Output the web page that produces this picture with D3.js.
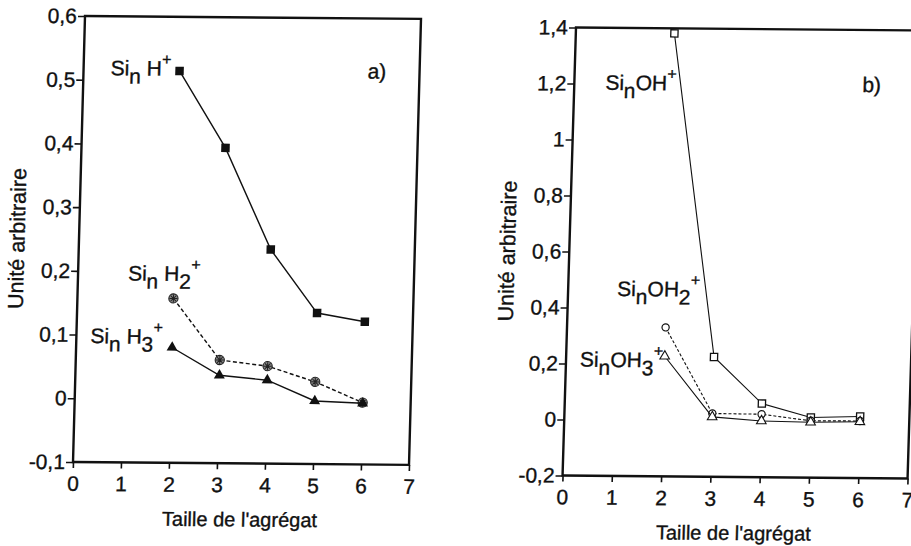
<!DOCTYPE html>
<html><head><meta charset="utf-8">
<script src="https://cdn.jsdelivr.net/npm/d3@7"></script>
<style>
body{margin:0;background:#fff}
text{font-family:"Liberation Sans",Arial,Helvetica,sans-serif;fill:#111;stroke:#111;stroke-width:0.35px}
</style>
</head><body>
<svg id="chart" width="911" height="546"></svg>
<script>
// ---- data ----
const sizes = [2, 3, 4, 5, 6];
const siH   = [0.515, 0.395, 0.236, 0.137, 0.124];
const siH2  = [0.158, 0.062, 0.053, 0.029, -0.003];
const siH3  = [0.081, 0.038, 0.031, -0.001, -0.004];
const siOH  = [1.382, 0.228, 0.063, 0.015, 0.020];
const siOH2 = [0.332, 0.026, 0.025, 0.003, 0.004];
const siOH3 = [0.229, 0.014, 0.001, -0.002, 0.001];
const xTicks  = [0, 1, 2, 3, 4, 5, 6, 7];
const yTicksA = [-0.1, 0, 0.1, 0.2, 0.3, 0.4, 0.5, 0.6];
const yTicksB = [-0.2, 0, 0.2, 0.4, 0.6, 0.8, 1, 1.2, 1.4];
const xTitle = "Taille de l'agrégat";
const yTitle = "Unité arbitraire";

const svg = d3.select("#chart");
svg.append("rect").attr("width", 911).attr("height", 546).attr("fill", "#fff");

const fmt = d => String(+d.toFixed(1)).replace(".", ",");

function asteriskPath(r) {
  const p = d3.path();
  for (let k = 0; k < 4; k++) {
    const a = k * Math.PI / 4;
    p.moveTo(-r * Math.cos(a), -r * Math.sin(a));
    p.lineTo(r * Math.cos(a), r * Math.sin(a));
  }
  return p.toString();
}

const panels = [
  {
    matrix: [1, 0.0086, -0.0269, 1, 85, 16], W: 336, H: 446,
    yDomain: [-0.1, 0.6], yTicks: yTicksA,
    series: [
      {values: siH,  marker: "sqFill", dash: null},
      {values: siH2, marker: "star",   dash: "4,2.5"},
      {values: siH3, marker: "triFill", dash: null}
    ],
    labels: [
      {u: 27, v: 59, parts: [["Si"], ["n", "sub"], [" H"], ["+", "sup"]]},
      {u: 50, v: 264, parts: [["Si"], ["n", "sub"], [" H"], ["2", "sub"], ["+", "sup"]]},
      {u: 14, v: 327, parts: [["Si"], ["n", "sub"], [" H"], ["3", "sub"], ["+", "sup"]]},
      {u: 284, v: 60, parts: [["a)"]]}
    ]
  },
  {
    matrix: [1, 0.0087, -0.03, 1, 576, 27.5], W: 345, H: 448,
    yDomain: [-0.2, 1.4], yTicks: yTicksB,
    series: [
      {values: siOH,  marker: "sqOpen", dash: null},
      {values: siOH2, marker: "circOpen", dash: "3,2"},
      {values: siOH3, marker: "triOpen", dash: null}
    ],
    labels: [
      {u: 31, v: 62, parts: [["Si"], ["n", "sub"], ["OH"], ["+", "sup"]]},
      {u: 49, v: 268, parts: [["Si"], ["n", "sub"], ["OH"], ["2", "sub"], ["+", "sup"]]},
      {u: 14, v: 339, parts: [["Si"], ["n", "sub"], ["OH"], ["3", "sub"], ["+", "sup"]]},
      {u: 288, v: 62, parts: [["b)"]]}
    ]
  }
];

panels.forEach(P => {
  const g = svg.append("g").attr("transform", `matrix(${P.matrix.join(",")})`);
  const x = d3.scaleLinear().domain([0, 7]).range([0, P.W]);
  const y = d3.scaleLinear().domain(P.yDomain).range([P.H, 0]);

  // axes
  const ax = g.append("g").attr("transform", `translate(0,${P.H})`)
    .call(d3.axisBottom(x).tickValues(xTicks).tickSize(6).tickPadding(8).tickFormat(d3.format("d")));
  const ay = g.append("g")
    .call(d3.axisLeft(y).tickValues(P.yTicks).tickSize(7).tickPadding(1).tickFormat(fmt));
  [ax, ay].forEach(a => {
    a.select(".domain").remove();
    a.selectAll("line").attr("stroke", "#111").attr("stroke-width", 1.6);
    a.selectAll("text").attr("font-size", 21).attr("fill", "#111")
      .style("font-family", '"Liberation Sans",Arial,sans-serif');
  });

  // frame
  g.append("rect").attr("x", 0).attr("y", 0).attr("width", P.W).attr("height", P.H)
    .attr("fill", "none").attr("stroke", "#111").attr("stroke-width", 2.4);

  // titles
  g.append("text").attr("x", P.W / 2).attr("y", P.H + 63).attr("text-anchor", "middle")
    .attr("font-size", 20).text(xTitle);
  g.append("text").attr("transform", `translate(-62,${P.H / 2}) rotate(-90)`)
    .attr("text-anchor", "middle").attr("dy", "0.35em").attr("font-size", 21.5).text(yTitle);

  // series
  const line = d3.line().x((d, i) => x(sizes[i])).y(d => y(d));
  P.series.forEach(S => {
    g.append("path").datum(S.values).attr("d", line)
      .attr("fill", "none").attr("stroke", "#111")
      .attr("stroke-width", P === panels[0] ? 1.4 : 1.1)
      .attr("stroke-dasharray", S.dash);
    const m = g.selectAll(null).data(S.values).enter().append("g")
      .attr("transform", (d, i) => `translate(${x(sizes[i])},${y(d)})`);
    if (S.marker === "sqFill") {
      m.append("path").attr("d", d3.symbol(d3.symbolSquare, 72)).attr("fill", "#111");
    } else if (S.marker === "triFill") {
      m.append("path").attr("d", d3.symbol(d3.symbolTriangle, 52)).attr("fill", "#111");
    } else if (S.marker === "star") {
      m.append("circle").attr("r", 4.6).attr("fill", "#888").attr("stroke", "#222").attr("stroke-width", 1.1);
      m.append("path").attr("d", asteriskPath(4)).attr("stroke", "#222").attr("stroke-width", 1);
    } else if (S.marker === "sqOpen") {
      m.append("path").attr("d", d3.symbol(d3.symbolSquare, 52)).attr("fill", "#fff")
        .attr("stroke", "#111").attr("stroke-width", 1.3);
    } else if (S.marker === "circOpen") {
      m.append("circle").attr("r", 3.6).attr("fill", "#fff").attr("stroke", "#111").attr("stroke-width", 1.2);
    } else if (S.marker === "triOpen") {
      m.append("path").attr("d", d3.symbol(d3.symbolTriangle, 40)).attr("fill", "#fff")
        .attr("stroke", "#111").attr("stroke-width", 1.1);
    }
  });

  // labels
  P.labels.forEach(L => {
    const t = g.append("text").attr("x", L.u).attr("y", L.v).attr("font-size", 21);
    let off = 0;
    L.parts.forEach(([s, kind]) => {
      const target = kind === "sub" ? 8 : kind === "sup" ? -11 : 0;
      t.append("tspan").attr("dy", target - off)
        .attr("font-size", kind === "sup" ? 16 : 21).text(s);
      off = target;
    });
  });
});
</script>
</body></html>
